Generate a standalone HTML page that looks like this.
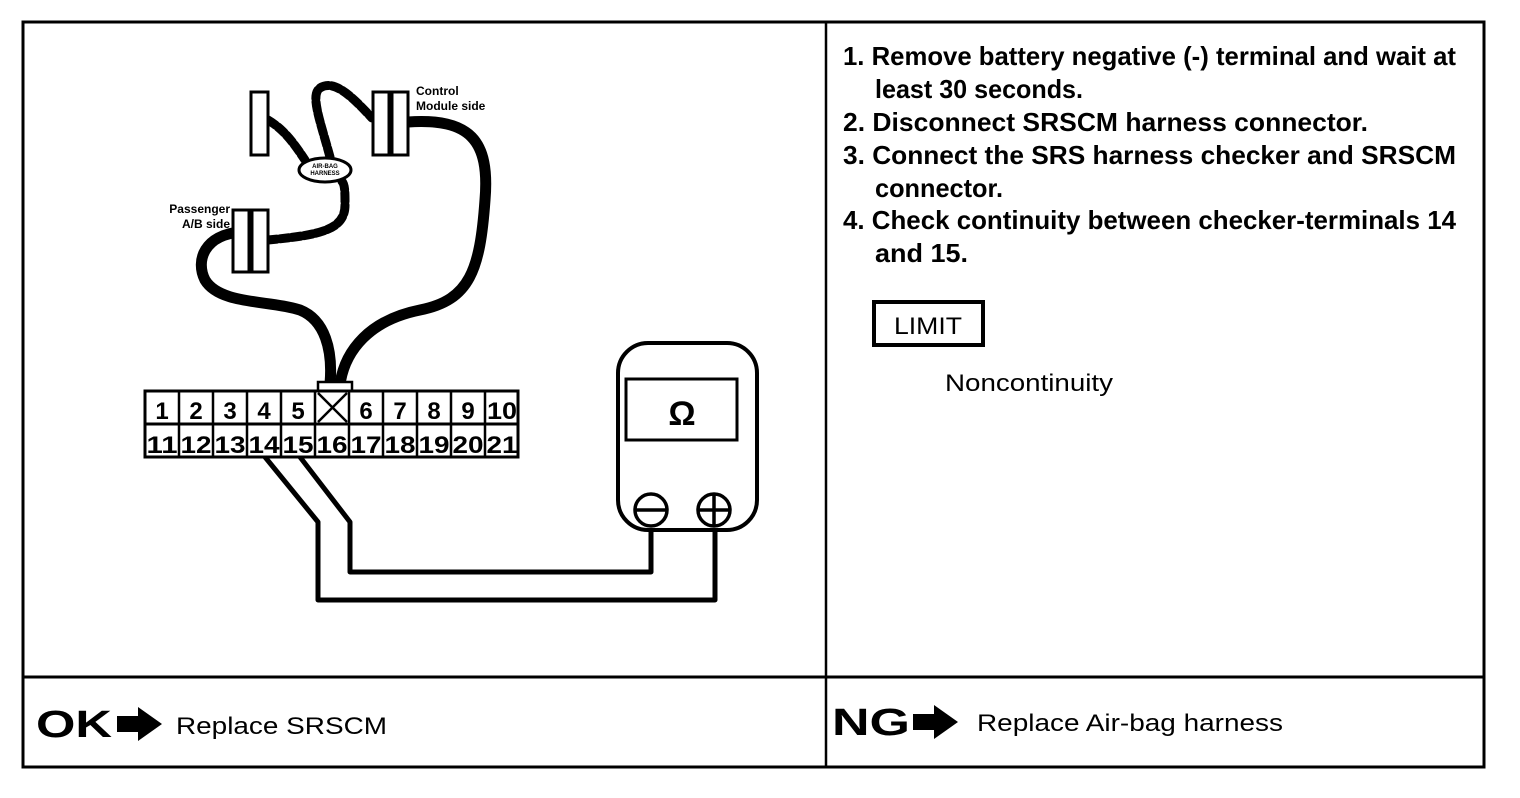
<!DOCTYPE html>
<html><head><style>
html,body{margin:0;padding:0;background:#fff;}
svg{display:block;}
text{font-family:"Liberation Sans",sans-serif;fill:#000;}
</style></head><body>
<svg width="1520" height="798" viewBox="0 0 1520 798" xmlns="http://www.w3.org/2000/svg">
<!-- frame -->
<rect x="23" y="22" width="1461" height="745" fill="none" stroke="#000" stroke-width="3"/>
<line x1="826" y1="22" x2="826" y2="767" stroke="#000" stroke-width="2.5"/>
<line x1="23" y1="677" x2="1484" y2="677" stroke="#000" stroke-width="3"/>

<!-- harness cables -->
<g fill="none" stroke="#000" stroke-linecap="round">
<path d="M408,122 C470,118 490,140 485,200 C480,270 470,300 420,310 C370,320 345,350 340,384" stroke-width="11"/>
<path d="M240,232 C205,235 195,260 205,280 C220,305 270,300 300,310 C325,320 333,350 330,384" stroke-width="11"/>
<path d="M268,240 C320,235 345,230 345,205 C345,190 345,182 340,180" stroke-width="9" stroke-dasharray="9,3"/>
<path d="M268,120 C285,130 295,145 305,160" stroke-width="9" stroke-dasharray="9,3"/>
<path d="M330,157 C320,120 310,95 320,88 C335,78 355,100 372,118" stroke-width="9" stroke-dasharray="9,3"/>
</g>
<!-- connectors -->
<g fill="#fff" stroke="#000" stroke-width="3">
<rect x="251" y="92" width="17" height="63"/>
<rect x="373" y="92" width="16" height="63"/>
<rect x="392" y="92" width="16" height="63"/>
<rect x="233" y="210" width="16" height="62"/>
<rect x="252" y="210" width="16" height="62"/>
<ellipse cx="325" cy="170" rx="26" ry="12"/>
</g>
<text x="325" y="168" font-size="6" text-anchor="middle" font-weight="bold">AIR-BAG</text>
<text x="325" y="175" font-size="6" text-anchor="middle" font-weight="bold">HARNESS</text>
<text x="416" y="95" font-size="12" font-weight="bold">Control</text>
<text x="416" y="110" font-size="12" font-weight="bold">Module side</text>
<text x="230" y="213" font-size="12" font-weight="bold" text-anchor="end">Passenger</text>
<text x="230" y="228" font-size="12" font-weight="bold" text-anchor="end">A/B side</text>

<!-- connector grid -->
<rect x="318" y="382" width="34" height="10" fill="#fff" stroke="#000" stroke-width="2.5"/>
<rect x="145" y="391" width="373" height="66" fill="#fff" stroke="#000" stroke-width="3"/>
<line x1="145" y1="424" x2="518" y2="424" stroke="#000" stroke-width="3"/>
<g stroke="#000" stroke-width="2.5">
<line x1="179" y1="391" x2="179" y2="457"/><line x1="213" y1="391" x2="213" y2="457"/>
<line x1="247" y1="391" x2="247" y2="457"/><line x1="281" y1="391" x2="281" y2="457"/>
<line x1="315" y1="391" x2="315" y2="457"/><line x1="349" y1="391" x2="349" y2="457"/>
<line x1="383" y1="391" x2="383" y2="457"/><line x1="417" y1="391" x2="417" y2="457"/>
<line x1="451" y1="391" x2="451" y2="457"/><line x1="485" y1="391" x2="485" y2="457"/>
<line x1="318" y1="393" x2="347" y2="422"/><line x1="347" y1="393" x2="318" y2="422"/>
</g>
<g font-size="24" text-anchor="middle" font-weight="bold">
<text x="162" y="419">1</text><text x="196" y="419">2</text><text x="230" y="419">3</text><text x="264" y="419">4</text><text x="298" y="419">5</text>
<text x="366" y="419">6</text><text x="400" y="419">7</text><text x="434" y="419">8</text><text x="468" y="419">9</text><text x="502" y="419" textLength="30" lengthAdjust="spacingAndGlyphs">10</text>
<text x="162" y="453" textLength="31" lengthAdjust="spacingAndGlyphs">11</text><text x="196" y="453" textLength="31" lengthAdjust="spacingAndGlyphs">12</text><text x="230" y="453" textLength="31" lengthAdjust="spacingAndGlyphs">13</text><text x="264" y="453" textLength="31" lengthAdjust="spacingAndGlyphs">14</text><text x="298" y="453" textLength="31" lengthAdjust="spacingAndGlyphs">15</text><text x="332" y="453" textLength="31" lengthAdjust="spacingAndGlyphs">16</text><text x="366" y="453" textLength="31" lengthAdjust="spacingAndGlyphs">17</text><text x="400" y="453" textLength="31" lengthAdjust="spacingAndGlyphs">18</text><text x="434" y="453" textLength="31" lengthAdjust="spacingAndGlyphs">19</text><text x="468" y="453" textLength="31" lengthAdjust="spacingAndGlyphs">20</text><text x="502" y="453" textLength="31" lengthAdjust="spacingAndGlyphs">21</text>
</g>

<!-- test wires -->
<g fill="none" stroke="#000" stroke-width="5" stroke-linejoin="round">
<path d="M265,457 L318,522 L318,600 L715,600 L715,530"/>
<path d="M300,457 L350,522 L350,572 L651,572 L651,530"/>
</g>

<!-- meter -->
<rect x="618" y="343" width="139" height="187" rx="30" fill="#fff" stroke="#000" stroke-width="4"/>
<rect x="626" y="379" width="111" height="61" fill="#fff" stroke="#000" stroke-width="3"/>
<text x="682" y="425" font-size="34" font-weight="bold" text-anchor="middle">Ω</text>
<circle cx="651" cy="510" r="16" fill="#fff" stroke="#000" stroke-width="3.5"/>
<line x1="635" y1="510" x2="667" y2="510" stroke="#000" stroke-width="3.5"/>
<circle cx="714" cy="510" r="16" fill="#fff" stroke="#000" stroke-width="3.5"/>
<line x1="698" y1="510" x2="730" y2="510" stroke="#000" stroke-width="3.5"/>
<line x1="714" y1="494" x2="714" y2="526" stroke="#000" stroke-width="3.5"/>

<!-- instructions -->
<g font-size="26" font-weight="bold">
<text x="843" y="65" textLength="613" lengthAdjust="spacingAndGlyphs">1. Remove battery negative (-) terminal and wait at</text>
<text x="875" y="98" textLength="208" lengthAdjust="spacingAndGlyphs">least 30 seconds.</text>
<text x="843" y="131" textLength="525" lengthAdjust="spacingAndGlyphs">2. Disconnect SRSCM harness connector.</text>
<text x="843" y="164" textLength="613" lengthAdjust="spacingAndGlyphs">3. Connect the SRS harness checker and SRSCM</text>
<text x="875" y="197" textLength="128" lengthAdjust="spacingAndGlyphs">connector.</text>
<text x="843" y="229" textLength="613" lengthAdjust="spacingAndGlyphs">4. Check continuity between checker-terminals 14</text>
<text x="875" y="262" textLength="93" lengthAdjust="spacingAndGlyphs">and 15.</text>
</g>
<rect x="874" y="302" width="109" height="43" fill="none" stroke="#000" stroke-width="4"/>
<text x="928" y="334" font-size="24" text-anchor="middle" textLength="68" lengthAdjust="spacingAndGlyphs">LIMIT</text>
<text x="945" y="391" font-size="24" textLength="168" lengthAdjust="spacingAndGlyphs">Noncontinuity</text>

<!-- bottom -->
<text x="36" y="737" font-size="38" font-weight="bold" textLength="76" lengthAdjust="spacingAndGlyphs">OK</text>
<polygon points="117,716 138,716 138,707 162,724 138,741 138,732 117,732" fill="#000"/>
<text x="176" y="734" font-size="24" textLength="211" lengthAdjust="spacingAndGlyphs">Replace SRSCM</text>
<text x="832" y="735" font-size="38" font-weight="bold" textLength="78" lengthAdjust="spacingAndGlyphs">NG</text>
<polygon points="913,714 934,714 934,705 958,722 934,739 934,730 913,730" fill="#000"/>
<text x="977" y="731" font-size="24" textLength="306" lengthAdjust="spacingAndGlyphs">Replace Air-bag harness</text>
</svg>
</body></html>
